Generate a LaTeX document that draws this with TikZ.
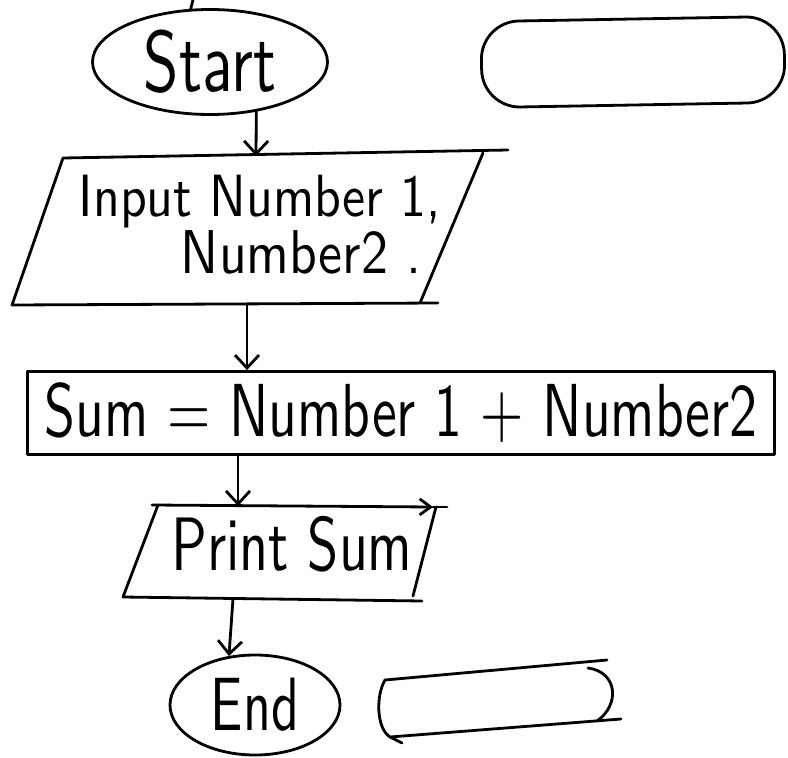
\documentclass[tikz,border=0pt]{standalone}
\usepackage{graphicx}
\usetikzlibrary{shapes.geometric,arrows.meta,calc}
\newcommand{\hw}[3][1.4]{\scalebox{1}[#1]{\resizebox{#2}{!}{\sffamily #3}}}
\begin{document}
\begin{tikzpicture}[x=1pt,y=-1pt,
  outline/.style={draw=black,line width=2.8pt,line cap=round,line join=round},
  arr/.style={outline,-{Straight Barb[length=13pt,width=24pt]}},
  term/.style={ellipse,outline,inner sep=0pt},
  procbox/.style={rectangle,outline,inner sep=0pt},
  txt/.style={inner sep=0pt}]
\useasboundingbox (0,0) rectangle (788,758);
\fill[white] (0,0) rectangle (788,758);

% Start terminal
\node[term,minimum width=235pt,minimum height=105pt] (start) at (210,62) {\hw[1.35]{132pt}{Start}};
\coordinate (topin) at (193,0);
\draw[outline] (topin) -- (start.110);

% empty terminal top right
\node[rectangle,outline,rounded corners=38pt,minimum width=303pt,minimum height=86pt,rotate=1] (blankA) at (633,62) {};

% Input parallelogram
\coordinate (i1tl) at (63,158);
\coordinate (i1tr) at (483,153);
\coordinate (i1te) at (508,150);
\coordinate (i1br) at (420,303);
\coordinate (i1bl) at (12,305);
\coordinate (i1be) at (438,303);
\draw[outline] (i1te) -- (i1tl) -- (i1bl) -- (i1be);
\draw[outline] (i1tr) -- (i1br);
\node[txt,anchor=base] (in1a) at (260,216) {\hw[1.15]{362pt}{Input Number 1,}};
\node[txt,anchor=base] (in1b) at (301,273) {\hw[1.15]{240pt}{Number2 .}};
\coordinate (i1in) at (256,156);
\coordinate (i1out) at (247,304);

% Sum process box
\node[procbox,minimum width=747pt,minimum height=83pt] (sum) at (401,413) {\hw[1.35]{712pt}{Sum = Number 1 + Number2}};

% Print parallelogram
\coordinate (p2ts) at (152,505);
\coordinate (p2tl) at (158,505);
\coordinate (p2tip) at (433,507);
\coordinate (p2tr) at (436,507);
\coordinate (p2te) at (447,507);
\coordinate (p2br) at (413,596);
\coordinate (p2bl) at (123,597);
\coordinate (p2be) at (422,601);
\draw[outline,-{Straight Barb[length=11pt,width=16pt]}] (p2ts) -- (p2tip);
\draw[outline] (p2tip) -- (p2te);
\draw[outline] (p2tl) -- (p2bl) -- (p2be);
\draw[outline] (p2tr) -- (p2br);
\node[txt,anchor=base] (print) at (292,570) {\hw[1.35]{241pt}{Print Sum}};
\coordinate (p2in) at (238,506);
\coordinate (p2out) at (233,599);

% End terminal
\node[term,minimum width=170pt,minimum height=100pt] (endn) at (255,705) {\hw[1.4]{88pt}{End}};

% empty terminal bottom
\coordinate (bAtr) at (607,660);
\coordinate (bAtl) at (385,680);
\coordinate (bAbl) at (390,737);
\coordinate (bAbr) at (621,719);
\coordinate (bAhook) at (402,743);
\coordinate (bAcs) at (588,668);
\coordinate (bAce) at (597,721);
\draw[outline] (bAtr) -- (bAtl) .. controls (376,695) and (376,728) .. (bAbl) -- (bAbr);
\draw[outline] (bAbl) -- (bAhook);
\draw[outline] (bAcs) .. controls (618,672) and (620,705) .. (bAce);

% connectors
\draw[arr] (start.-47) -- (i1in);
\draw[arr] (i1out) -- (i1out |- sum.north);
\draw[arr] (sum.south -| p2in) -- (p2in);
\draw[arr] (p2out) -- (endn.118);
\end{tikzpicture}
\end{document}
